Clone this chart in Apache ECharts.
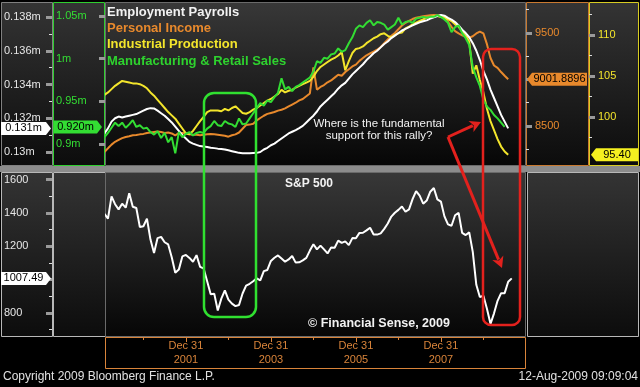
<!DOCTYPE html>
<html><head><meta charset="utf-8">
<script src="https://cdn.jsdelivr.net/npm/echarts@6/dist/echarts.min.js"></script>
<style>html,body{margin:0;padding:0;background:#000}#c{width:640px;height:387px}</style>
</head><body><div id="c"></div>
<script>
// ---------- DATA ----------
const months = [];
for (let y = 2000; y <= 2009; y++) for (let m = 1; m <= 12; m++) { if (y === 2009 && m > 8) break; months.push(y + '-' + String(m).padStart(2, '0')); }

// Employment Payrolls (thousands) Jan 2000 - Jul 2009
const employment = [
 131100,131400,131800,132000,132100,132050,132100,132150,132200,132250,132350,132450,
 132550,132600,132580,132450,132300,132150,131950,131750,131500,131250,131000,130800,
 130600,130500,130420,130350,130320,130300,130250,130230,130200,130180,130150,130100,
 130050,130000,129950,129930,129920,129920,129940,129950,130000,130150,130250,130400,
 130500,130650,130800,130950,131100,131200,131300,131420,131550,131750,131950,132150,
 132400,132700,132900,133100,133300,133500,133750,133950,134100,134350,134600,134800,
 135000,135200,135450,135650,135850,136000,136200,136400,136550,136750,136900,137050,
 137200,137300,137400,137500,137600,137680,137750,137800,137900,137980,138050,138120,
 138080,137950,137850,137700,137500,137250,137050,136800,136450,136000,135450,134800,
 134300,133700,133200,132700,132200,131800,131400];
// Personal Income Jan 2000 - Jul 2009
const personalIncome = [
 8221,8260,8300,8330,8350,8370,8382,8390,8400,8403,8410,8415,
 8425,8430,8435,8440,8435,8425,8430,8420,8400,8425,8425,8420,
 8410,8405,8405,8400,8405,8410,8415,8410,8405,8400,8395,8385,
 8400,8410,8430,8470,8510,8515,8525,8560,8586,8610,8630,8640,
 8650,8665,8675,8690,8710,8730,8750,8775,8790,8820,8850,9130,
 8890,8920,8940,8970,8990,9020,9050,9040,9080,9110,9140,9160,
 9200,9230,9260,9280,9300,9320,9350,9390,9430,9470,9500,9540,
 9580,9610,9630,9650,9665,9672,9680,9685,9690,9693,9690,9685,
 9670,9620,9565,9520,9495,9475,9460,9450,9465,9495,9515,9495,
 9380,9231,9150,9124,9080,9040,9001.8896];
// Industrial Production Jan 2000 - Jul 2009
const industrialProduction = [
 102.7,103.0,103.4,103.8,104.1,104.4,104.3,104.2,104.1,104.1,104.0,103.8,
 103.5,103.0,102.6,102.1,101.6,101.1,100.6,100.2,99.8,99.2,98.6,98.0,
 97.9,98.3,98.9,99.5,100.0,100.6,100.8,100.8,100.8,100.7,101.0,100.8,
 101.1,101.3,100.9,100.5,100.4,100.6,100.9,101.1,101.4,101.7,102.0,102.2,
 102.5,102.8,103.3,103.0,103.2,103.3,103.6,103.8,104.0,104.2,104.4,104.9,
 105.6,106.1,106.4,106.7,107.0,107.2,107.5,107.9,105.7,106.8,107.8,108.3,
 108.4,108.6,109.0,109.3,109.6,109.8,110.1,110.2,109.9,109.7,110.0,110.2,
 110.3,110.8,111.0,111.3,111.5,111.7,111.9,112.1,112.2,112.3,112.3,112.2,
 112.1,111.9,111.7,111.3,111.0,110.4,109.9,109.2,105.3,106.3,104.5,103.0,
 101.0,99.5,98.4,97.3,96.4,95.8,95.40];
// Manufacturing & Retail Sales (m) Jan 2000 - Jun 2009
const mfgRetailSales = [
 0.908,0.913,0.919,0.925,0.921,0.925,0.919,0.923,0.928,0.920,0.922,0.918,
 0.919,0.914,0.911,0.915,0.907,0.913,0.902,0.908,0.889,0.914,0.908,0.912,
 0.914,0.910,0.913,0.914,0.913,0.918,0.921,0.927,0.922,0.921,0.927,0.924,
 0.923,0.920,0.930,0.923,0.924,0.930,0.936,0.942,0.948,0.945,0.951,0.949,
 0.955,0.960,0.977,0.964,0.967,0.962,0.967,0.969,0.972,0.975,0.978,0.985,
 0.997,0.995,1.001,1.000,1.005,1.006,1.012,1.008,1.010,1.018,1.025,1.035,
 1.039,1.037,1.042,1.045,1.039,1.043,1.042,1.040,1.034,1.037,1.040,1.048,
 1.040,1.043,1.044,1.042,1.047,1.048,1.049,1.048,1.049,1.049,1.051,1.049,
 1.046,1.042,1.031,1.037,1.039,1.030,1.024,1.016,0.990,0.978,0.968,0.952,
 0.944,0.940,0.934,0.930,0.925,0.920];
// S&P 500 Jan 2000 - Aug 2009
const sp500 = [
 1394,1366,1499,1452,1421,1455,1431,1518,1437,1429,1315,1320,
 1366,1240,1160,1249,1256,1224,1211,1134,1041,1060,1139,1148,
 1130,1107,1147,1077,1067,990,912,916,815,886,936,880,
 856,841,848,917,964,975,990,1008,996,1051,1058,1112,
 1131,1145,1126,1107,1121,1141,1102,1104,1115,1130,1174,1212,
 1181,1204,1181,1157,1192,1191,1234,1220,1229,1207,1249,1248,
 1280,1281,1295,1311,1270,1270,1277,1304,1336,1378,1401,1418,
 1438,1407,1421,1482,1531,1503,1455,1474,1527,1549,1481,1468,
 1379,1331,1323,1386,1400,1280,1267,1283,1166,969,896,903,
 826,735,798,873,919,919,987,1007.49];

const xTickValues = [2002, 2004, 2006, 2008];
const xTickLabels = ['Dec 31\n2001', 'Dec 31\n2003', 'Dec 31\n2005', 'Dec 31\n2007'];
const xMinorTicks = [2001, 2003, 2005, 2007, 2009];
const empTicks = [130000, 132000, 134000, 136000, 138000];
const empMinor = [131000, 133000, 135000, 137000];
const mfgTicks = [0.9, 0.95, 1.0, 1.05];
const piTicks = [8500, 9000, 9500];
const piLabels = [8500, 9500];
const piMinor = [8250, 8750, 9250, 9750];
const ipTicks = [100, 105, 110];
const ipMinor = [97.5, 102.5, 107.5, 112.5];
const spTicks = [800, 1000, 1200, 1400, 1600];
const spLabels = [800, 1200, 1400, 1600];
const spMinor = [700, 900, 1100, 1300, 1500];

// ---------- CHART ----------
const FONT = '"Liberation Sans", Arial, sans-serif';
const COL = { white: '#ffffff', orange: '#e8892c', yellow: '#f3e52c', green: '#33dd33', red: '#e3211d', axOrange: '#d9843a' };
const XMIN = 2000.12, XMAX = 2000.12 + 419 / 42.5;
const toT = s => { const p = s.split('-').map(Number); return p[0] + p[1] / 12; };
const pairs = arr => arr.map((v, i) => [toT(months[i]), v]);

const chart = echarts.init(document.getElementById('c'), null, { renderer: 'canvas' });

function yax(o) {
  return Object.assign({ type: 'value', splitLine: { show: false }, axisLine: { show: false }, scale: true }, o);
}
function majorTick(vals, color) { return { show: true, customValues: vals, length: 6, lineStyle: { color: color || '#9a9a9a', width: 3 } }; }
function minorTick(vals) { return { show: true, customValues: vals, length: 3, lineStyle: { color: '#dddddd', width: 1 } }; }
const trimM = v => { let s = (v / 1e6).toFixed(3); s = s.replace(/0+$/, '').replace(/\.$/, ''); return s + 'm'; };
const plain = v => String(+(+v).toFixed(4));

const option = {
  backgroundColor: '#000',
  animation: false,
  grid: [
    { left: 106, top: 2, width: 419, height: 163 },
    { left: 106, top: 172, width: 419, height: 165 }
  ],
  xAxis: [
    { gridIndex: 0, type: 'value', min: XMIN, max: XMAX, show: false },
    { gridIndex: 1, type: 'value', min: XMIN, max: XMAX, position: 'bottom',
      axisLine: { show: false }, splitLine: { show: false },
      axisTick: { show: true, customValues: xTickValues, length: 5, lineStyle: { color: COL.axOrange } },
      axisLabel: { customValues: xTickValues, formatter: v => xTickLabels[xTickValues.indexOf(Math.round(v))] || '',
        color: COL.axOrange, fontSize: 11, lineHeight: 14, margin: 2, fontFamily: FONT } },
    { gridIndex: 1, type: 'value', min: XMIN, max: XMAX, position: 'bottom',
      axisLine: { show: false }, splitLine: { show: false }, axisLabel: { show: false },
      axisTick: { show: true, customValues: xMinorTicks, length: 3, lineStyle: { color: COL.axOrange } } }
  ],
  yAxis: [
    yax({ gridIndex: 0, position: 'left', offset: 54, min: 129230, max: 138889,
      axisTick: majorTick(empTicks),
      axisLabel: { customValues: empTicks, formatter: trimM, color: '#e6e6e6', fontSize: 11, fontFamily: FONT, align: 'left', margin: 48 } }),
    yax({ gridIndex: 0, position: 'left', offset: 54, min: 129230, max: 138889, axisLabel: { show: false }, axisTick: minorTick(empMinor) }),
    yax({ gridIndex: 0, position: 'left', offset: 1, min: 0.8754, max: 1.0664,
      axisTick: majorTick(mfgTicks),
      axisLabel: { customValues: mfgTicks, formatter: v => plain(v) + 'm', color: COL.green, fontSize: 11, fontFamily: FONT, align: 'left', margin: 49 } }),
    yax({ gridIndex: 0, position: 'right', offset: 1, min: 8080.6, max: 9833,
      axisTick: majorTick(piTicks),
      axisLabel: { customValues: piLabels, formatter: plain, color: COL.orange, fontSize: 11, fontFamily: FONT, margin: 9 } }),
    yax({ gridIndex: 0, position: 'right', offset: 1, min: 8080.6, max: 9833, axisLabel: { show: false }, axisTick: minorTick(piMinor) }),
    yax({ gridIndex: 0, position: 'right', offset: 64, min: 94.15, max: 114.02,
      axisTick: majorTick(ipTicks),
      axisLabel: { customValues: ipTicks, formatter: plain, color: COL.yellow, fontSize: 11, fontFamily: FONT, margin: 9 } }),
    yax({ gridIndex: 0, position: 'right', offset: 64, min: 94.15, max: 114.02, axisLabel: { show: false }, axisTick: minorTick(ipMinor) }),
    yax({ gridIndex: 1, position: 'left', offset: 54, min: 656.2, max: 1645,
      axisTick: majorTick(spTicks),
      axisLabel: { customValues: spLabels, formatter: plain, color: '#e6e6e6', fontSize: 11, fontFamily: FONT, align: 'left', margin: 48 } }),
    yax({ gridIndex: 1, position: 'left', offset: 54, min: 656.2, max: 1645, axisLabel: { show: false }, axisTick: minorTick(spMinor) })
  ],
  series: [
    { name: 'Personal Income', type: 'line', xAxisIndex: 0, yAxisIndex: 3, data: pairs(personalIncome), showSymbol: false, lineStyle: { color: COL.orange, width: 2 }, clip: true },
    { name: 'Industrial Production', type: 'line', xAxisIndex: 0, yAxisIndex: 5, data: pairs(industrialProduction), showSymbol: false, lineStyle: { color: COL.yellow, width: 2 }, clip: true },
    { name: 'Employment Payrolls', type: 'line', xAxisIndex: 0, yAxisIndex: 0, data: pairs(employment), showSymbol: false, lineStyle: { color: COL.white, width: 2 }, clip: true },
    { name: 'Manufacturing & Retail Sales', type: 'line', xAxisIndex: 0, yAxisIndex: 2, data: pairs(mfgRetailSales), showSymbol: false, lineStyle: { color: COL.green, width: 2 }, clip: true },
    { name: 'S&P 500', type: 'line', xAxisIndex: 1, yAxisIndex: 7, data: pairs(sp500), showSymbol: false, lineStyle: { color: COL.white, width: 2 }, clip: true }
  ]
};
chart.setOption(option);

// ---------- DECORATION ----------
function grad(a, b) { return { type: 'linear', x: 0, y: 0, x2: 0, y2: 1, colorStops: [{ offset: 0, color: a }, { offset: 1, color: b }] }; }
function box(x, y, w, h, fill, stroke) {
  return { type: 'rect', z: -10, silent: true, shape: { x: x + 0.5, y: y + 0.5, width: w, height: h }, style: { fill: fill, stroke: stroke, lineWidth: 1 } };
}
function txt(text, x, y, color, font, align, z) {
  return { type: 'text', z: z || 100, silent: true, style: { text: text, x: x, y: y, fill: color, font: font, align: align || 'left', verticalAlign: 'middle' } };
}
function arrow(x1, y1, x2, y2, color) {
  const dx = x2 - x1, dy = y2 - y1, L = Math.hypot(dx, dy), ux = dx / L, uy = dy / L;
  const hl = 11, hw = 6, bx = x2 - ux * hl, by = y2 - uy * hl, nx = -uy, ny = ux;
  return [
    { type: 'line', z: 100, silent: true, shape: { x1: x1, y1: y1, x2: bx + ux * 2, y2: by + uy * 2 }, style: { stroke: color, lineWidth: 3 } },
    { type: 'polygon', z: 100, silent: true, shape: { points: [[x2, y2], [bx + nx * hw, by + ny * hw], [bx + ux * 3, by + uy * 3], [bx - nx * hw, by - ny * hw]] }, style: { fill: color } }
  ];
}
function tagRight(x0, x1, y, fill, text) {
  return [
    { type: 'polygon', z: 110, silent: true, shape: { points: [[x0, y - 6.5], [x1, y - 6.5], [x1 + 5, y], [x1, y + 6.5], [x0, y + 6.5]] }, style: { fill: fill } },
    txt(text, (x0 + x1) / 2, y, '#000', '11px ' + FONT, 'center', 120)
  ];
}
function tagLeft(tip, x1, y, fill, text) {
  return [
    { type: 'polygon', z: 110, silent: true, shape: { points: [[tip, y], [tip + 5, y - 6.5], [x1, y - 6.5], [x1, y + 6.5], [tip + 5, y + 6.5]] }, style: { fill: fill } },
    txt(text, (tip + 5 + x1) / 2, y, '#000', '11px ' + FONT, 'center', 120)
  ];
}

const side = grad('#343434', '#0c0c0c');
const plot = grad('#383838', '#060606');
let els = [
  box(1, 2, 51, 163, side, '#808080'),
  box(53, 2, 51, 163, side, '#2fcf2f'),
  box(105, 2, 420, 163, plot, '#6a6a6a'),
  box(526, 2, 62, 163, side, '#c97a30'),
  box(589, 2, 49, 163, side, '#d8cc22'),
  { type: 'rect', z: -9, silent: true, shape: { x: 0, y: 166, width: 640, height: 6 }, style: { fill: '#8c8c8c' } },
  box(1, 172, 51, 164, side, '#b8b8b8'),
  box(53, 172, 52, 164, side, '#b8b8b8'),
  box(105, 172, 420, 164, plot, '#6a6a6a'),
  box(527, 172, 111, 164, side, '#b8b8b8'),
  box(105, 337, 420, 31, '#000', COL.axOrange),
  txt('Employment Payrolls', 107, 12, '#f2f2f2', 'bold 13px ' + FONT),
  txt('Personal Income', 107, 28, COL.orange, 'bold 13px ' + FONT),
  txt('Industrial Production', 107, 44, COL.yellow, 'bold 13px ' + FONT),
  txt('Manufacturing & Retail Sales', 107, 61, '#2ed22e', 'bold 13px ' + FONT),
  txt('S&P 500', 285, 184, '#f2f2f2', 'bold 12px ' + FONT),
  txt('\u00A9 Financial Sense, 2009', 308, 324, '#f2f2f2', 'bold 12.5px ' + FONT),
  { type: 'text', z: 100, silent: true, style: { text: 'Where is the fundamental\nsupport for this rally?', x: 379, y: 130, fill: '#f2f2f2', font: '11.5px ' + FONT, align: 'center', verticalAlign: 'middle', lineHeight: 12 } },
  txt('Copyright 2009 Bloomberg Finance L.P.', 3, 377, '#e0e0e0', '12px ' + FONT),
  txt('12-Aug-2009 09:09:04', 638, 377, '#e0e0e0', '12px ' + FONT, 'right'),
  { type: 'rect', z: 100, silent: true, shape: { x: 204, y: 93, width: 52, height: 224, r: 10 }, style: { fill: 'none', stroke: '#30e030', lineWidth: 2.5 } },
  { type: 'rect', z: 100, silent: true, shape: { x: 483, y: 49, width: 37, height: 276, r: 8 }, style: { fill: 'none', stroke: COL.red, lineWidth: 2.5 } }
];
els = els.concat(arrow(448, 137, 481, 122, COL.red), arrow(448, 137, 502, 268, COL.red));

const last = a => a[a.length - 1];
const py = (idx, v) => chart.convertToPixel({ yAxisIndex: idx }, v);
els = els.concat(
  tagRight(1, 46, py(0, last(employment)), '#ffffff', trimM(last(employment))),
  tagRight(54, 97, py(2, last(mfgRetailSales)), COL.green, last(mfgRetailSales).toFixed(3) + 'm'),
  tagLeft(527, 587, py(3, last(personalIncome)), COL.orange, last(personalIncome).toFixed(4)),
  tagLeft(591, 638, py(5, last(industrialProduction)), '#f5f020', last(industrialProduction).toFixed(2)),
  tagRight(1, 46, py(7, last(sp500)), '#ffffff', last(sp500).toFixed(2))
);
chart.setOption({ graphic: { elements: els } });
</script>
</body></html>
